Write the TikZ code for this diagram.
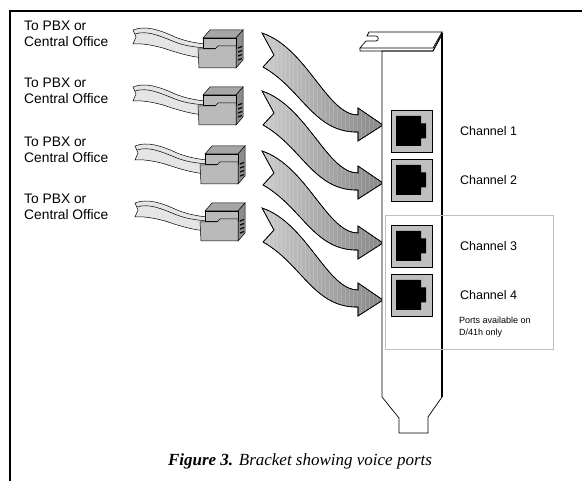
\documentclass[tikz,border=0pt]{standalone}
\usepackage{fontspec}
\setmainfont{Liberation Serif}
\setsansfont{Liberation Sans}
\usepackage{tikz}
\usetikzlibrary{positioning}

\begin{document}
\begin{tikzpicture}[x=1pt, y=-1pt,
  every node/.style={inner sep=0pt},
  lbl/.style={font=\sffamily\fontsize{13.8}{15.5}\selectfont, align=left},
  chlabel/.style={font=\sffamily\fontsize{12.5}{15}\selectfont},
  note/.style={font=\sffamily\fontsize{9}{11.5}\selectfont, align=left},
  ribbon/.style={draw=black, line width=.5pt, fill=black!10},
  plug/.style={draw=black, line width=.5pt},
  bigarrow/.style={draw=black, line width=.6pt, left color=black!20, right color=black!47},
  jackbox/.style={draw=black, line width=.8pt, fill=black!25, minimum width=41pt, minimum height=42pt}]
  \useasboundingbox (0,0) rectangle (582,481);

  % frame
  \draw[line width=2pt] (582,11) -- (10,11) -- (10,481);

  % cables and plugs
  \foreach \i/\dx/\dy in {1/0/0, 2/0/57, 3/2/116, 4/2/173} {
    \node[lbl, anchor=north west] (pbx\i) at (24,21+\dy) {To PBX or\\Central Office};
    \begin{scope}[shift={(\dx,\dy)}]
      \draw[ribbon] (133,30) .. controls (145,25) and (160,30) .. (175,37) .. controls (185,41) and (195,43) .. (205,44) -- (205,58) .. controls (190,57) and (175,52) .. (163,48) .. controls (152,45) and (140,43) .. (133,44) -- (136,37) -- cycle;
      \draw[line width=.5pt] (135,34) .. controls (147,30) and (160,36) .. (175,42) .. controls (185,46) and (195,47) .. (205,48);
      \draw[plug, fill=black!35] (203,38) -- (210,30) -- (243,30) -- (236,38) -- cycle;
      \draw[plug, fill=black!45] (236,38) -- (243,30) -- (243,60) -- (236,68) -- cycle;
      \draw[plug, fill=black!27] (203,38) rectangle (236,48);
      \draw[plug, fill=black!27] (198,49) -- (215,49) -- (218,46) -- (236,46) -- (236,68) -- (199,68) -- cycle;
      \foreach \r in {48,52,56,60}
        \draw[line width=1.2pt] (238,\r) -- (242,\r-1.5);
    \end{scope}
  }

  % curved arrows
  \foreach \i/\ty in {1/33, 2/91, 3/151, 4/208} {
    \begin{scope}[shift={(262,\ty)}]
      \path[bigarrow, save path=\arrowshape] (0,0) .. controls (45,15) and (65,82) .. (96,82) -- (96,75) -- (121,92) -- (96,108) -- (96,99) .. controls (52,100) and (40,56) .. (1,34) -- (12,22) -- cycle;
      \begin{scope}
        \clip[use path=\arrowshape];
        \foreach \s in {3,7,...,118}
          \draw[white, opacity=.16, line width=.8pt] (\s,-2) -- (\s,110);
      \end{scope}
      \draw[line width=.6pt, use path=\arrowshape];
    \end{scope}
  }

  % bracket
  \draw[line width=.7pt, fill=white] (382,51) -- (382,397) -- (399,418) -- (399,433) -- (428,433) -- (428,417) -- (442,397) -- (442,33) -- (433,51) -- cycle;
  \draw[line width=1.2pt] (442,33) -- (442,397);
  \draw[line width=.7pt, fill=white] (369,32) -- (442,32) -- (433,48) -- (360,48) -- (366,41) -- (376,41) .. controls (379,41) and (379,36) .. (376,36) -- (367,36) -- cycle;
  \draw[line width=.7pt] (360,48) -- (360,51) -- (433,51) -- (442,35);

  \node[draw=black!25, line width=.8pt, minimum width=168pt, minimum height=134pt] (d41box) at (469,282) {};

  % jacks
  \foreach \i/\y in {1/131, 2/180, 3/246, 4/295} {
    \node[jackbox] (jack\i) at (412,\y) {};
    \begin{scope}[shift={(jack\i.center)}]
      \fill (-16,-15) -- (9,-15) -- (9,-7.5) -- (14,-7.5) -- (14,7.5) -- (9,7.5) -- (9,15) -- (-16,15) -- cycle;
    \end{scope}
    \node[chlabel, right=27pt of jack\i] (ch\i) {Channel \i};
  }
  \node[note, anchor=north west] (note) at (459,317) {Ports available on\\D/41h only};

  \node[font=\fontsize{17}{20}\selectfont, anchor=base] (caption) at (300,466) {\textbf{\textit{Figure 3.}} \textit{Bracket showing voice ports}};
\end{tikzpicture}
\end{document}
